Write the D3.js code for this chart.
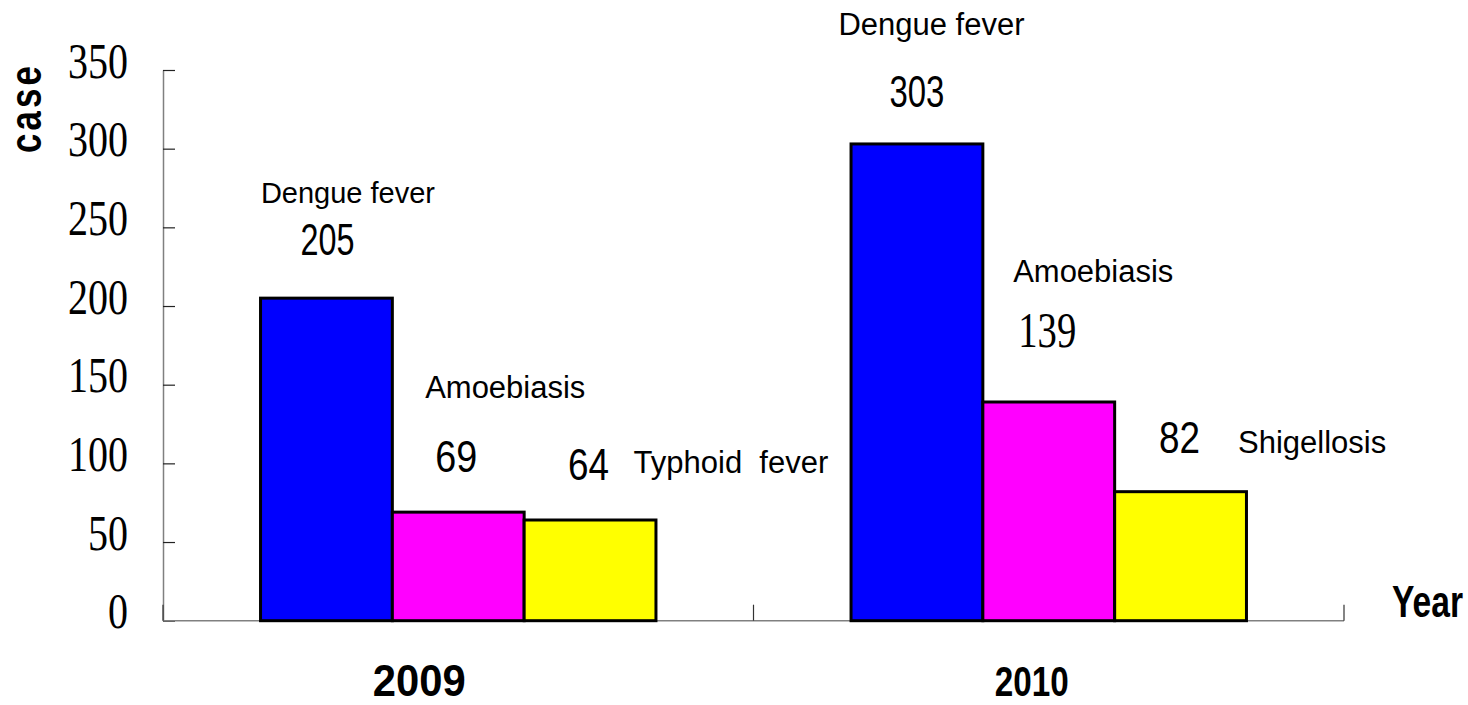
<!DOCTYPE html>
<html>
<head>
<meta charset="utf-8">
<script src="https://cdn.jsdelivr.net/npm/d3@7/dist/d3.min.js"></script>
<style>
  html, body { margin: 0; padding: 0; background: #fff; }
  svg { display: block; }
</style>
</head>
<body>
<svg id="chart" width="1468" height="705"></svg>
<script>
// ---- data ----
const years = ["2009", "2010"];
const series = ["s1", "s2", "s3"];
const values2009 = [205, 69, 64];
const values2010 = [303, 139, 82];
const diseases2009 = ["Dengue fever", "Amoebiasis", "Typhoid  fever"];
const diseases2010 = ["Dengue fever", "Amoebiasis", "Shigellosis"];
const yTicks = [0, 50, 100, 150, 200, 250, 300, 350];

// ---- styles / layout ----
const colors = ["#0000FF", "#FF00FF", "#FFFF00"];
const sansFont = "'Liberation Sans', Arial, sans-serif";
const serifFont = "'Liberation Serif', 'Times New Roman', serif";

// label offsets relative to bar top-centre
const labelLayout2009 = [
  {ndx: 21.5, ndy: -95, anchor: "middle", nsize: 29, vdx: 1, vdy: -43, vw: 54, serif: false},
  {ndx: 47, ndy: -114, anchor: "middle", nsize: 31, vdx: -2, vdy: -40, vw: 42, serif: false},
  {ndx: 43.5, ndy: -47, anchor: "start", nsize: 31, vdx: -1.5, vdy: -40, vw: 41, serif: false}
];
const labelLayout2010 = [
  {ndx: 14.5, ndy: -109, anchor: "middle", nsize: 31, vdx: 0, vdy: -37, vw: 55, serif: false},
  {ndx: 44.5, ndy: -120, anchor: "middle", nsize: 31, vdx: -1.5, vdy: -55, vw: 58, serif: true},
  {ndx: 57.5, ndy: -39, anchor: "start", nsize: 31, vdx: -1, vdy: -39, vw: 41, serif: false}
];
const yearLayout = [{dx: -39, dy: 75, w: 93, size: 44}, {dx: -17, dy: 75.5, w: 74, size: 42}];

const svg = d3.select("#chart");
const plotLeft = 163, plotRight = 1344, plotTop = 70, plotBottom = 620.7;

const x = d3.scaleBand().domain(years).range([plotLeft, plotRight]).paddingInner(0).paddingOuter(0);
const xi = d3.scaleBand().domain(series).range([0, x.bandwidth()]).paddingInner(0).paddingOuter(0.74);
const y = d3.scaleLinear().domain([0, 350]).range([plotBottom, plotTop]);

const rows = [
  {year: "2009", values: values2009, names: diseases2009, layout: labelLayout2009},
  {year: "2010", values: values2010, names: diseases2010, layout: labelLayout2010}
];

// condensed text helper: places text at (px,py) and squeezes it horizontally to width w
function condensed(parent, str, px, py, w, opts) {
  const t = parent.append("text")
    .attr("x", 0).attr("y", 0)
    .attr("text-anchor", opts.anchor || "start")
    .style("font-family", opts.font)
    .style("font-size", opts.size + "px")
    .style("font-weight", opts.weight || "normal")
    .style("letter-spacing", (opts.spacing || 0) + "px")
    .attr("fill", "#000")
    .text(str);
  const natural = t.node().getComputedTextLength();
  const sx = natural > 0 ? w / natural : 1;
  t.attr("transform", `translate(${px},${py}) ${opts.rotate ? "rotate(" + opts.rotate + ") " : ""}scale(${sx},1)`);
  return t;
}

// ---- y axis ----
const yAxis = d3.axisLeft(y).tickValues(yTicks).tickSizeInner(-12).tickSizeOuter(0).tickPadding(0);
const gy = svg.append("g").attr("transform", `translate(${plotLeft},0)`).call(yAxis);
gy.select(".domain").attr("stroke", "#808080").attr("stroke-width", 1.5);
gy.selectAll(".tick line").attr("stroke", "#222").attr("stroke-width", 1.2);
gy.selectAll(".tick text").remove();
gy.selectAll(".tick").each(function(d) {
  condensed(d3.select(this), String(d), -35, 7, String(d).length * 20,
    {anchor: "end", font: serifFont, size: 51});
});

// ---- x axis line and ticks ----
svg.append("line")
  .attr("x1", plotLeft).attr("x2", plotRight).attr("y1", plotBottom).attr("y2", plotBottom)
  .attr("stroke", "#808080").attr("stroke-width", 1.5);
const boundaries = years.map(d => x(d)).concat([x(years[years.length - 1]) + x.bandwidth()]);
svg.selectAll(".xtick").data(boundaries).join("line")
  .attr("class", "xtick")
  .attr("x1", d => d).attr("x2", d => d)
  .attr("y1", plotBottom).attr("y2", plotBottom - 16)
  .attr("stroke", "#333").attr("stroke-width", 1.2);

// ---- bars ----
const groups = svg.selectAll(".grp").data(rows).join("g")
  .attr("class", "grp")
  .attr("transform", d => `translate(${x(d.year)},0)`);

groups.selectAll("rect").data(d => d.values.map((v, i) => ({v, i}))).join("rect")
  .attr("x", d => xi(series[d.i]))
  .attr("width", xi.bandwidth())
  .attr("y", d => y(d.v))
  .attr("height", d => y(0) - y(d.v))
  .attr("fill", d => colors[d.i])
  .attr("stroke", "#000")
  .attr("stroke-width", 3);

// ---- labels ----
groups.each(function(row) {
  const g = d3.select(this);
  row.values.forEach((v, i) => {
    const L = row.layout[i];
    const cx = xi(series[i]) + xi.bandwidth() / 2;
    const ty = y(v);
    g.append("text")
      .attr("x", cx + L.ndx).attr("y", ty + L.ndy)
      .attr("text-anchor", L.anchor)
      .style("font-family", sansFont)
      .style("font-size", L.nsize + "px")
      .style("white-space", "pre")
      .attr("fill", "#000")
      .text(row.names[i]);
    condensed(g, String(v), cx + L.vdx, ty + L.vdy, L.vw,
      {anchor: "middle", font: L.serif ? serifFont : sansFont, size: L.serif ? 51 : 44});
  });
});

// ---- year labels ----
years.forEach((d, i) => {
  condensed(svg, d, x(d) + x.bandwidth() / 2 + yearLayout[i].dx, plotBottom + yearLayout[i].dy,
    yearLayout[i].w, {anchor: "middle", font: sansFont, size: yearLayout[i].size, weight: "bold"});
});

// ---- axis titles ----
condensed(svg, "case", 41, 108, 90, {anchor: "middle", font: sansFont, size: 44, weight: "bold", rotate: -90, spacing: 4});
condensed(svg, "Year", 1392, 617, 71, {anchor: "start", font: sansFont, size: 44, weight: "bold"});
</script>
</body>
</html>
